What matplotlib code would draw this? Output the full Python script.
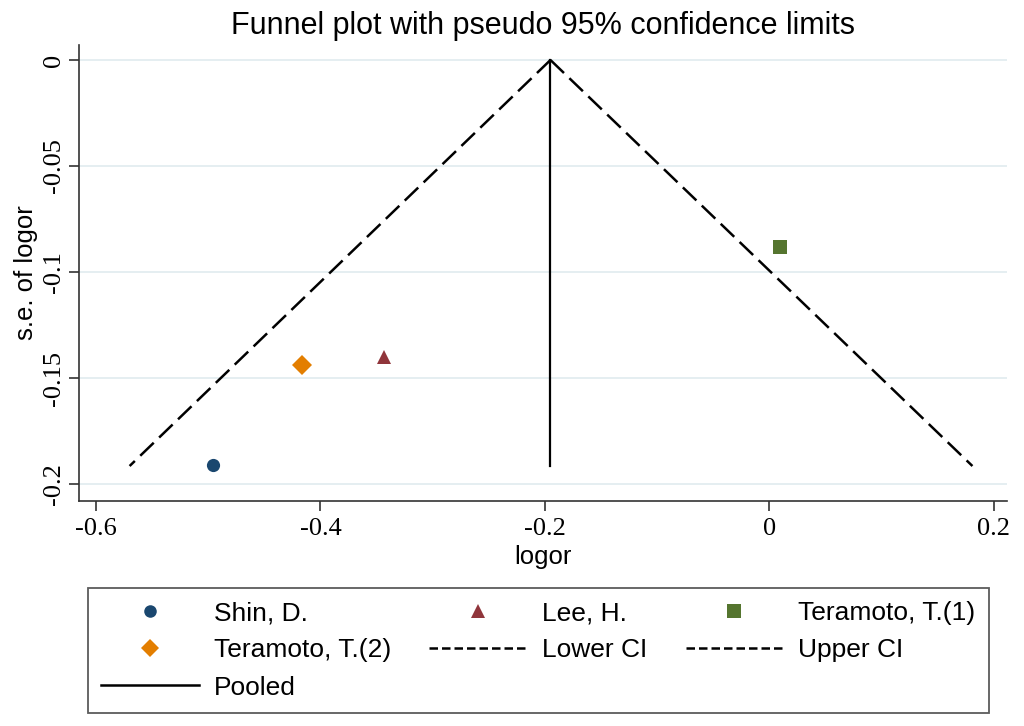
import matplotlib
matplotlib.use("Agg")
import matplotlib.pyplot as plt
from matplotlib.lines import Line2D

# ---- data ----
studies = ["Shin, D.", "Lee, H.", "Teramoto, T.(1)", "Teramoto, T.(2)"]
logor = [-0.496, -0.343, 0.0095, -0.416]
neg_se = [-0.191, -0.140, -0.0884, -0.1439]
pooled_x = [-0.195, -0.195]
pooled_y = [0.0, -0.1915]
lower_ci_x = [-0.195, -0.570]
upper_ci_x = [-0.195, 0.181]
ci_y = [0.0, -0.1915]
xticks = [-0.6, -0.4, -0.2, 0, 0.2]
xticklabels = ["-0.6", "-0.4", "-0.2", "0", "0.2"]
yticks = [0, -0.05, -0.1, -0.15, -0.2]
yticklabels = ["0", "-0.05", "-0.1", "-0.15", "-0.2"]

colors = ["#1a476f", "#90353b", "#55752f", "#e37e00"]
markers = ["o", "^", "s", "D"]
msizes = [9.5, 10.5, 10.5, 10]

SANS = ["Liberation Sans", "DejaVu Sans"]
SERIF = ["Liberation Serif", "DejaVu Serif"]

W, H = 1024, 726
fig = plt.figure(figsize=(W / 100, H / 100), dpi=100)
fig.patch.set_facecolor("white")
ax = fig.add_axes([79 / W, 1 - 501 / H, (1007 - 79) / W, (501 - 45) / H])

ax.set_xlim(-0.6151, 0.2118)
ax.set_ylim(-0.208, 0.00708)

for yv in yticks:
    ax.axhline(yv, color="#e5eef1", lw=1.4, zorder=0)

h_pts = []
for name, x, y, c, m, s in zip(studies, logor, neg_se, colors, markers, msizes):
    h, = ax.plot([x], [y], linestyle="none", marker=m, markersize=s,
                 color=c, markeredgewidth=0, label=name, zorder=3)
    h_pts.append(h)

h_low, = ax.plot(lower_ci_x, ci_y, color="black", lw=1.8,
                 linestyle=(0, (7.5, 3)), label="Lower CI", zorder=2)
h_up, = ax.plot(upper_ci_x, ci_y, color="black", lw=1.8,
                linestyle=(0, (7.5, 3)), label="Upper CI", zorder=2)
h_pool, = ax.plot(pooled_x, pooled_y, color="black", lw=1.6,
                  label="Pooled", zorder=2)

for side in ["top", "right"]:
    ax.spines[side].set_visible(False)
for side in ["left", "bottom"]:
    ax.spines[side].set_color("#333333")
    ax.spines[side].set_linewidth(1.2)

ax.set_xticks(xticks)
ax.set_xticklabels(xticklabels, fontfamily=SERIF, fontsize=19)
ax.set_yticks(yticks)
ax.set_yticklabels(yticklabels, fontfamily=SERIF, fontsize=19,
                   rotation=90, va="center")
ax.tick_params(axis="both", direction="out", length=7, width=1.2,
               color="#333333")
ax.tick_params(axis="x", pad=5)
ax.tick_params(axis="y", pad=3)

ax.set_xlabel("logor", fontfamily=SANS, fontsize=18.5, labelpad=4)
ax.set_ylabel("s.e. of logor", fontfamily=SANS, fontsize=18.5, labelpad=4)
ax.set_title("Funnel plot with pseudo 95% confidence limits",
             fontfamily=SANS, fontsize=22, pad=8)

handles = [h_pts[0], h_pts[3], h_pool, h_pts[1], h_low, h_pts[2], h_up]
labels = [h.get_label() for h in handles]
leg_handles = []
for h in handles:
    if h.get_marker() not in (None, "None", "none", ""):
        leg_handles.append(Line2D([], [], linestyle="none", marker=h.get_marker(),
                                  markersize=h.get_markersize() * 0.95,
                                  color=h.get_color(), markeredgewidth=0))
    else:
        ls = h.get_linestyle()
        leg_handles.append(Line2D([], [], color="black", lw=1.8,
                                  linestyle=(0, (3.4, 1.6)) if ls != "-" else "-"))

leg = fig.legend(leg_handles, labels, ncol=3, loc="upper left",
                 bbox_to_anchor=(88 / W, 1 - 588 / H),
                 prop={"family": SANS, "size": 19},
                 frameon=True, fancybox=False, edgecolor="#333333",
                 handlelength=3.7, handletextpad=0.57, columnspacing=1.45,
                 labelspacing=0.5, borderpad=0.5, borderaxespad=0)
leg.get_frame().set_linewidth(1.3)

fig.savefig("out.png", dpi=100, facecolor="white")
